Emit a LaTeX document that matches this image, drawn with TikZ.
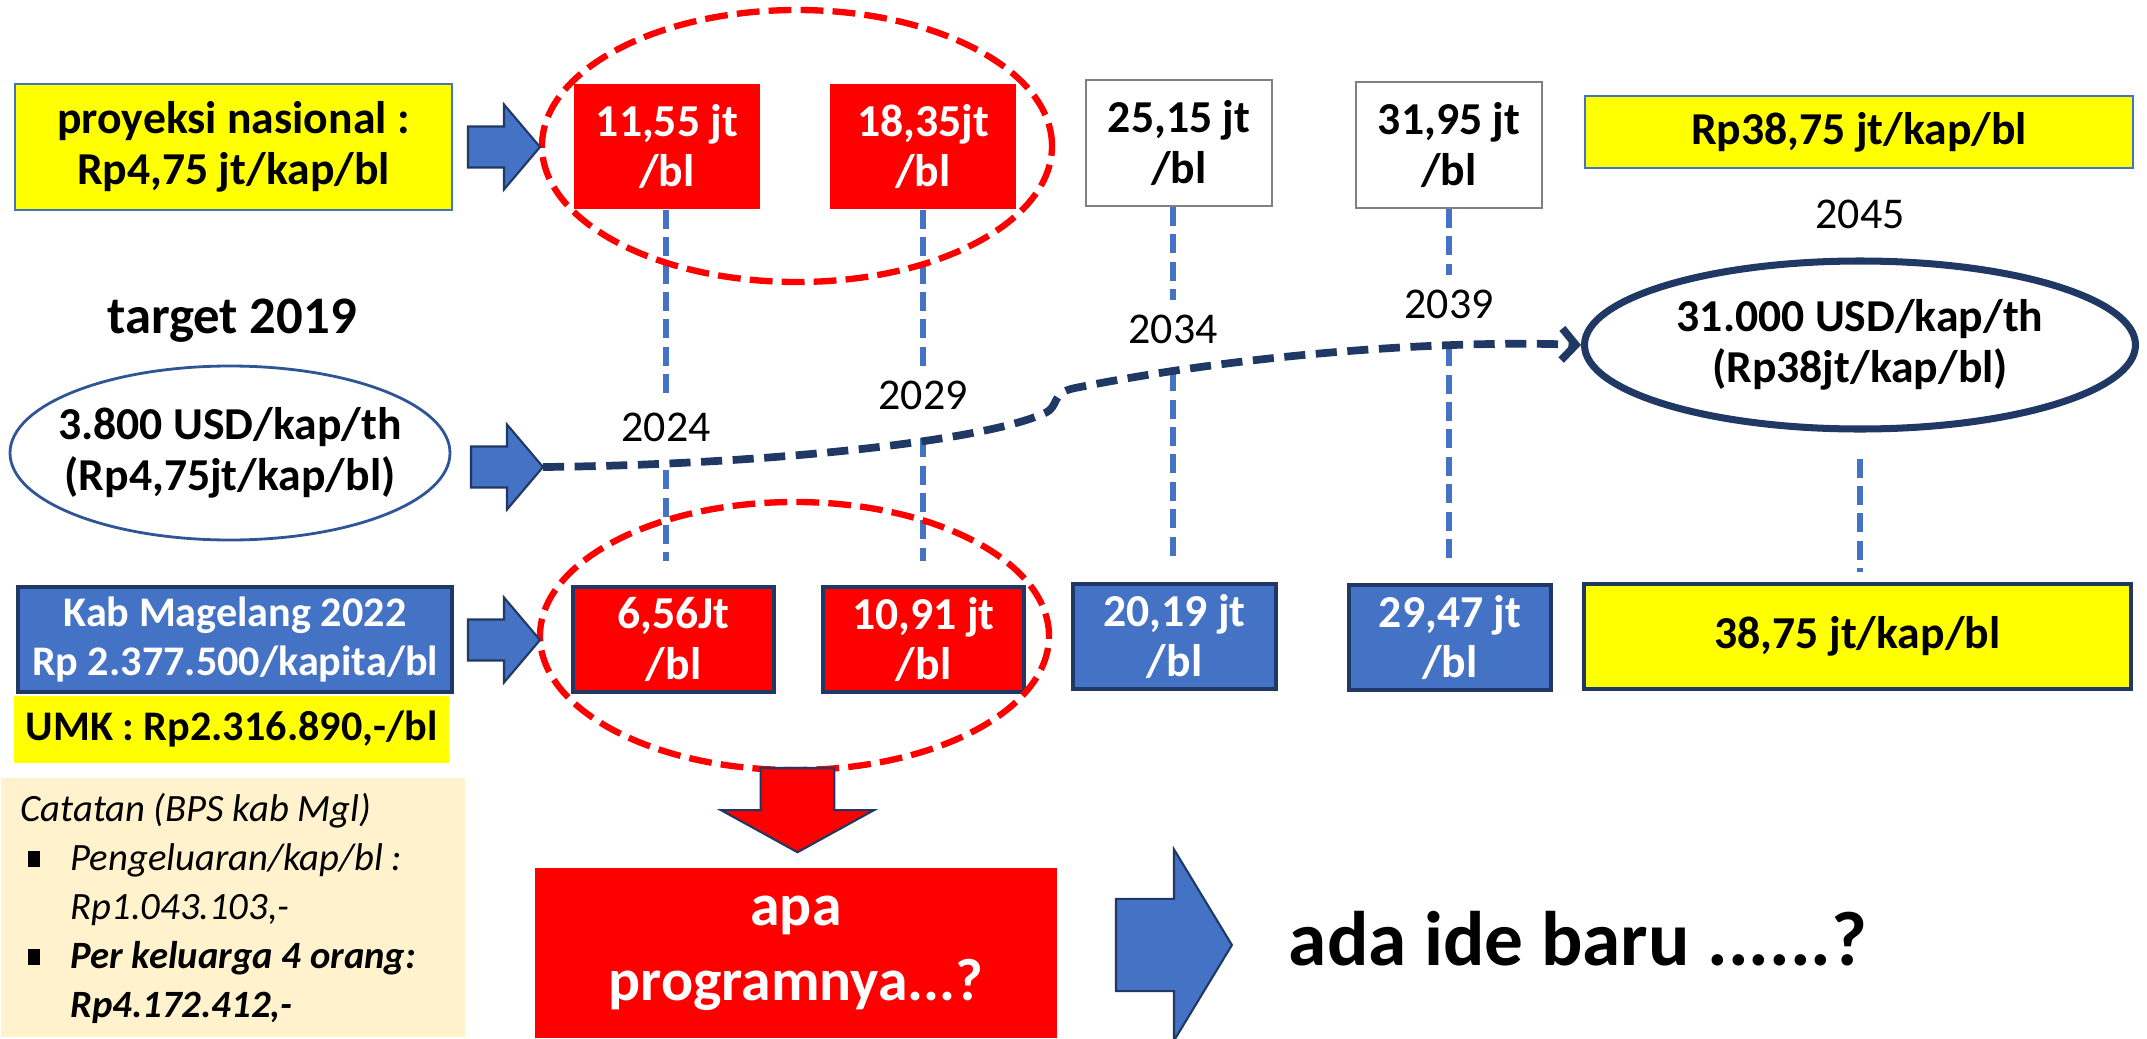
\documentclass[tikz,border=0pt]{standalone}
\usepackage{fontspec}
\setmainfont{Carlito}
\usetikzlibrary{shapes.geometric,arrows.meta}
\definecolor{myblue}{HTML}{4472C4}
\definecolor{mynavy}{HTML}{203864}
\definecolor{mydeep}{HTML}{2F5597}
\definecolor{myred}{HTML}{FF0000}
\definecolor{myyellow}{HTML}{FFFF00}
\definecolor{mycream}{HTML}{FFF2CC}
\definecolor{mygray}{HTML}{808080}
\newcommand{\bul}{\makebox[14.2pt][l]{\hspace*{2pt}\rule[1pt]{3.5pt}{4.5pt}}}

\begin{document}
\begin{tikzpicture}
	[every node/.style={inner sep=1pt, align=center},
	box/.style={rectangle, font=\bfseries\fontsize{13}{14.5}\selectfont},
	ybox/.style={box, fill=myyellow, draw=myblue, line width=.6pt},
	rbox/.style={box, fill=myred, text=white},
	bbox/.style={box, fill=myblue, draw=mynavy, line width=1pt, text=white},
	wbox/.style={box, draw=mygray, line width=.6pt},
	yr/.style={font=\fontsize{12.5}{14}\selectfont, inner sep=4pt},
	yline/.style={draw=myblue, line width=1.9pt, dash pattern=on 5.4pt off 2.4pt},
	ring/.style={ellipse, draw=myred, line width=1.8pt, dash pattern=on 6.5pt off 2.6pt},
	oval/.style={ellipse, draw=mynavy},
	flow/.style={draw=mynavy, line width=2.2pt, dash pattern=on 6pt off 3pt, -{Straight Barb[length=4pt,width=9pt]}},
	pics/barrow/.style={code={\filldraw[fill=#1, draw=mynavy, line width=.6pt] (0,-.205) -- (.36,-.205) -- (.36,-.425) -- (.72,0) -- (.36,.425) -- (.36,.205) -- (0,.205) -- cycle;}},
	pics/barrow/.default=myblue]
	\useasboundingbox (0,0) rectangle (21.47,10.38);
	
	% top row
	\node[ybox, minimum width=4.37cm, minimum height=1.26cm] (p) at (2.335,8.91) {proyeksi nasional :\\Rp4,75 jt/kap/bl};
	\node[rbox, minimum width=1.86cm, minimum height=1.25cm] (r1) at (6.67,8.915) {11,55 jt\\/bl};
	\node[rbox, minimum width=1.86cm, minimum height=1.25cm] (r2) at (9.23,8.915) {18,35jt\\/bl};
	\node[wbox, minimum width=1.86cm, minimum height=1.26cm] (w1) at (11.79,8.95) {25,15 jt\\/bl};
	\node[wbox, minimum width=1.86cm, minimum height=1.26cm] (w2) at (14.49,8.93) {31,95 jt\\/bl};
	\node[ybox, minimum width=5.48cm, minimum height=.72cm] (t1) at (18.59,9.06) {Rp38,75 jt/kap/bl};
	\node[yr] (y45) at (18.60,8.24) {2045};
	
	% middle
	\node[font=\bfseries\fontsize{15}{18}\selectfont] (tg) at (2.32,7.17) {target 2019};
	\node[oval, draw=mydeep, line width=.8pt, minimum width=4.40cm, minimum height=1.74cm] (e1) at (2.30,5.85) {};
	\node[box] (e1t) at (e1) {3.800 USD/kap/th\\(Rp4,75jt/kap/bl)};
	\node[oval, line width=2pt, minimum width=5.51cm, minimum height=1.68cm] (e2) at (18.60,6.93) {};
	\node[box] (e2t) at (e2) {31.000 USD/kap/th\\(Rp38jt/kap/bl)};
	\node[yr] (y24) at (6.66,6.11) {2024};
	\node[yr] (y29) at (9.23,6.43) {2029};
	\node[yr] (y34) at (11.73,7.09) {2034};
	\node[yr] (y39) at (14.49,7.34) {2039};
	\coordinate (a2) at (5.43,5.71);
	
	% bottom row
	\node[bbox, font=\bfseries\fontsize{12}{14.2}\selectfont, minimum width=4.34cm, minimum height=1.05cm] (k) at (2.35,3.985) {Kab Magelang 2022\\Rp 2.377.500/kapita/bl};
	\node[box, fill=myyellow, font=\bfseries\fontsize{12}{14.2}\selectfont, minimum width=4.35cm, minimum height=.67cm] (u) at (2.315,3.085) {UMK : Rp2.316.890,-/bl};
	\node[rbox, draw=mynavy, line width=1pt, minimum width=2.01cm, minimum height=1.05cm] (r3) at (6.735,3.985) {6,56Jt\\/bl};
	\node[rbox, draw=mynavy, line width=1pt, minimum width=2.01cm, minimum height=1.05cm] (r4) at (9.235,3.985) {10,91 jt\\/bl};
	\node[bbox, minimum width=2.03cm, minimum height=1.05cm] (b1) at (11.745,4.015) {20,19 jt\\/bl};
	\node[bbox, minimum width=2.02cm, minimum height=1.05cm] (b2) at (14.50,4.005) {29,47 jt\\/bl};
	\node[ybox, draw=mynavy, line width=1pt, minimum width=5.47cm, minimum height=1.05cm] (t2) at (18.575,4.015) {38,75 jt/kap/bl};
	
	% notes and question
	\node[fill=mycream, anchor=south west, inner sep=0, minimum width=4.64cm, minimum height=2.59cm] (nb) at (0,0) {};
	\node[anchor=north west, align=left, inner sep=0, font=\itshape\fontsize{11}{13.9}\selectfont] (nt) at (0.20,2.45) {Catatan (BPS kab Mgl)\\ \bul Pengeluaran/kap/bl :\\ \hspace*{14.2pt}Rp1.043.103,-\\ \bul\textbf{Per keluarga 4 orang:}\\ \hspace*{14.2pt}\textbf{Rp4.172.412,-}};
	\node[rbox, font=\bfseries\fontsize{17}{21.3}\selectfont, minimum width=5.22cm, minimum height=1.70cm] (apa) at (7.96,0.85) {apa\\programnya...?};
	\node[font=\bfseries\fontsize{22}{26}\selectfont] (ada) at (15.78,0.99) {ada ide baru ......?};
	
	% year lines
	\foreach \t/\y/\b in {r1/y24/r3, r2/y29/r4, w1/y34/b1, w2/y39/b2}
	{
		\draw[yline] (\y.north |- \t.south) -- (\y.north);
		\draw[yline, shorten <=4pt, shorten >=7pt] (\y.south) -- (\y.south |- \b.north);
	}
	\draw[yline, shorten <=7.4pt, shorten >=3pt] (e2.south) -- (e2.south |- t2.north);
	
	\draw[flow] (a2) .. controls (7.5,5.73) and (9.8,5.95) .. (10.45,6.25) .. controls (10.6,6.32) and (10.5,6.45) .. (10.75,6.5) .. controls (12.5,6.85) and (14.5,6.98) .. (e2.west);
	
	\node[ring, minimum width=5.10cm, minimum height=2.72cm] (c1) at (7.97,8.92) {};
	\node[ring, minimum width=5.09cm, minimum height=2.68cm] (c2) at (7.945,4.02) {};
	
	% block arrows
	\pic at (4.68,8.91) {barrow};
	\pic at (4.71,5.71) {barrow};
	\pic at (4.68,3.98) {barrow};
	\pic[xscale=1.61, yscale=2.25] at (11.16,0.93) {barrow};
	\pic[rotate=-90, xscale=1.17, yscale=1.8] at (7.975,2.70) {barrow=myred};
\end{tikzpicture}
\end{document}
